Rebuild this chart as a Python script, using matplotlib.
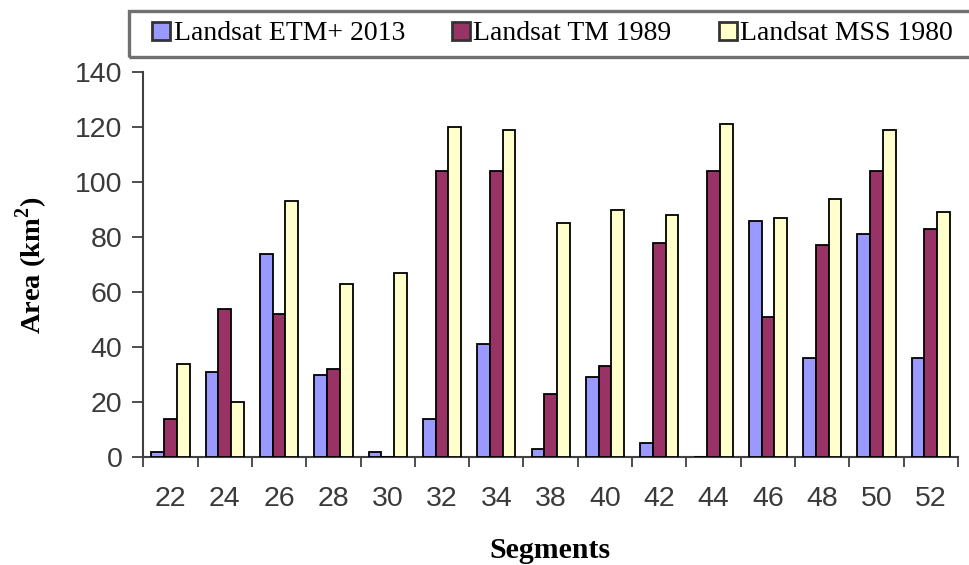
import matplotlib.pyplot as plt
import numpy as np
from matplotlib.patches import Rectangle

# segment numbers on the x axis
segments = ['22', '24', '26', '28', '30', '32', '34', '38', '40', '42', '44', '46', '48', '50', '52']

# area in km^2
etm_2013 = [2, 31, 74, 30, 2, 14, 41, 3, 29, 5, 0, 86, 36, 81, 36]
tm_1989 = [14, 54, 52, 32, 0, 104, 104, 23, 33, 78, 104, 51, 77, 104, 83]
mss_1980 = [34, 20, 93, 63, 67, 120, 119, 85, 90, 88, 121, 87, 94, 119, 89]

series_names = ['Landsat ETM+ 2013', 'Landsat TM 1989', 'Landsat MSS 1980']
colors = ['#9999FF', '#993366', '#FFFFCC']

plt.rcParams['mathtext.fontset'] = 'custom'
plt.rcParams['mathtext.rm'] = 'Liberation Serif'
plt.rcParams['mathtext.bf'] = 'Liberation Serif:bold'

W, H = 970, 565
fig = plt.figure(figsize=(W / 100, H / 100), dpi=100)
ax = fig.add_axes([143.3 / W, 1 - 457 / H, 814.7 / W, 385 / H])

x = np.arange(len(segments))
w = 0.235
for k, vals in enumerate([etm_2013, tm_1989, mss_1980]):
    ax.bar(x + (k - 1) * w, vals, width=w, color=colors[k], edgecolor='black',
           linewidth=1.3, label=series_names[k], zorder=3)

ax.set_xlim(-0.5, len(segments) - 0.5)
ax.set_ylim(0, 140)
ax.set_yticks(np.arange(0, 141, 20))

# ticks sit on the category boundaries, labels in the middle
ax.set_xticks(np.arange(-0.5, len(segments), 1.0))
ax.set_xticklabels([])
ax.set_xticks(x, minor=True)
ax.set_xticklabels(segments, minor=True)
ax.tick_params(axis='x', which='major', direction='out', length=7, width=1.3, color='#404040')
ax.tick_params(axis='x', which='minor', length=0, pad=21)
ax.tick_params(axis='y', direction='out', length=8, width=1.3, color='#404040', pad=7)

for lbl in ax.get_xticklabels(minor=True) + ax.get_yticklabels():
    lbl.set_fontfamily('Liberation Sans')
    lbl.set_fontsize(20.5)
    lbl.set_color('#3a3a3a')

for s in ['top', 'right']:
    ax.spines[s].set_visible(False)
for s in ['left', 'bottom']:
    ax.spines[s].set_color('#404040')
    ax.spines[s].set_linewidth(1.5)

fig.text(32 / W, 1 - 265 / H, r'Area (km$^{\mathbf{2}}$)', rotation=90, ha='center', va='center',
         fontfamily='Liberation Serif', fontweight='bold', fontsize=20.5)
fig.text(550 / W, 1 - 551 / H, 'Segments', ha='center', va='center',
         fontfamily='Liberation Serif', fontweight='bold', fontsize=21.5)

# legend without its own frame; the box runs off the right edge like the original
leg = fig.legend(loc='center left', bbox_to_anchor=(152.5 / W, 1 - 34 / H), ncol=3,
                 frameon=False, prop={'family': 'Liberation Serif', 'size': 20},
                 handlelength=0.64, handleheight=0.64, handletextpad=0.12,
                 columnspacing=1.7, borderpad=0, borderaxespad=0)
for h in leg.legend_handles:
    h.set_edgecolor('#333333')
    h.set_linewidth(2.0)

fig.patches.append(Rectangle((128.5 / W, 1 - 56.5 / H), 870 / W, 45.5 / H,
                             transform=fig.transFigure, fill=False,
                             edgecolor='#707070', linewidth=2.4))

plt.savefig('out.png', dpi=100)
